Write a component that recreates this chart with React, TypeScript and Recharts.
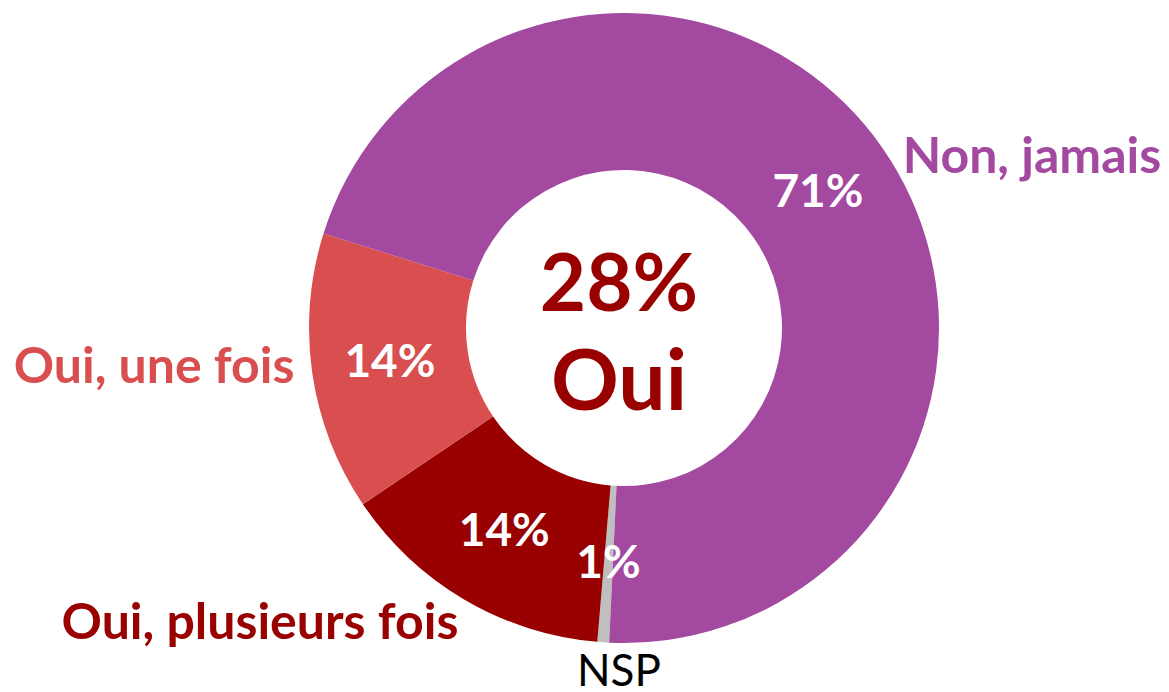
import React from "react";
import { PieChart, Pie, Cell } from "recharts";

const categories = ["NSP", "Oui, plusieurs fois", "Oui, une fois", "Non, jamais"];
const shares = [0.6, 14.2, 14.3, 70.9];
const sliceColors = ["#BFBFBF", "#990000", "#D94F50", "#A34AA0"];
const labelColors = ["#000000", "#990000", "#D94F50", "#A34AA0"];
const centerLines = ["28%", "Oui"];

const data = categories.map((name, i) => ({ name, value: shares[i] }));

const FONT = "Lato, 'Open Sans', sans-serif";
const RAD = Math.PI / 180;

// hand nudges so the outside labels sit where Excel put them
const outerNudge = [
    { dx: 17, dy: 7, anchor: "middle" },
    { dx: 4, dy: 3, anchor: "end" },
    { dx: 2, dy: -12, anchor: "end" },
    { dx: 4, dy: 18, anchor: "start" },
];

const renderLabel = (props: any) => {
    const { cx, cy, midAngle, innerRadius, outerRadius, index, value } = props;
    const mid = (innerRadius + outerRadius) / 2;
    const ix = cx + mid * Math.cos(-midAngle * RAD);
    const iy = cy + mid * Math.sin(-midAngle * RAD) - 3;
    const r = outerRadius + 20;
    const nudge = outerNudge[index];
    const ox = cx + r * Math.cos(-midAngle * RAD) + nudge.dx;
    const oy = cy + r * Math.sin(-midAngle * RAD) + nudge.dy;
    const isNsp = index === 0;
    return (
        <g>
            <text x={ix} y={iy} fill="#ffffff" textAnchor="middle" dominantBaseline="central"
                fontFamily={FONT} fontWeight={700} fontSize={46}>
                {`${Math.round(value)}%`}
            </text>
            <text x={ox} y={oy} fill={labelColors[index]} textAnchor={nudge.anchor as any} dominantBaseline="central"
                fontFamily={FONT} fontWeight={isNsp ? 400 : 700} fontSize={isNsp ? 44 : 50}>
                {categories[index]}
            </text>
        </g>
    );
};

export default function App() {
    const cx = 619;
    const cy = 323;
    return (
        <div style={{ position: "absolute", left: 0, top: 0, width: 1169, height: 692, background: "#fff" }}>
            <PieChart width={1169} height={692}>
                <Pie
                    data={data}
                    dataKey="value"
                    nameKey="name"
                    cx={cx}
                    cy={cy}
                    innerRadius={158}
                    outerRadius={315}
                    startAngle={-92.7}
                    endAngle={-452.7}
                    stroke="none"
                    label={renderLabel}
                    labelLine={false}
                    isAnimationActive={false}
                >
                    {data.map((entry, i) => (
                        <Cell key={`cell-${i}`} fill={sliceColors[i]} />
                    ))}
                </Pie>
                <text x={cx} y={cy - 43} textAnchor="middle" dominantBaseline="central"
                    fontFamily={FONT} fontWeight={700} fontSize={80} fill="#990000">
                    {centerLines[0]}
                </text>
                <text x={cx} y={cy + 54} textAnchor="middle" dominantBaseline="central"
                    fontFamily={FONT} fontWeight={700} fontSize={84} fill="#990000">
                    {centerLines[1]}
                </text>
            </PieChart>
        </div>
    );
}
